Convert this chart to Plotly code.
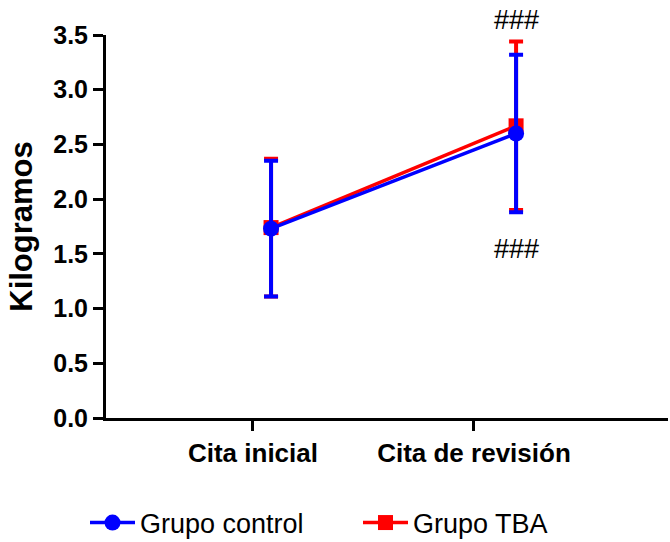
import plotly.graph_objects as go

categories = ["Cita inicial", "Cita de revisión"]
control_mean = [1.73, 2.60]
control_err = [0.62, 0.72]
tba_mean = [1.74, 2.67]
tba_err = [0.63, 0.77]
yticks = [0.0, 0.5, 1.0, 1.5, 2.0, 2.5, 3.0, 3.5]
signif = ["###", "###"]

FONT = "Liberation Sans, Arial, sans-serif"

fig = go.Figure()
# category holder for the labelled x axis (draws nothing)
fig.add_trace(go.Scatter(x=categories, y=[0, 0], mode="none", showlegend=False,
                         hoverinfo="skip", xaxis="x"))
fig.add_trace(go.Scatter(
    x=categories, y=tba_mean, name="Grupo TBA", xaxis="x2",
    mode="lines+markers",
    line=dict(color="#ff0000", width=3.5),
    marker=dict(symbol="square", size=15, color="#ff0000"),
    error_y=dict(type="data", array=tba_err, color="#ff0000", thickness=4, width=7),
    legendrank=2, cliponaxis=False,
))
fig.add_trace(go.Scatter(
    x=categories, y=control_mean, name="Grupo control", xaxis="x2",
    mode="lines+markers",
    line=dict(color="#0000ff", width=3.5),
    marker=dict(symbol="circle", size=16, color="#0000ff"),
    error_y=dict(type="data", array=control_err, color="#0000ff", thickness=4, width=7),
    legendrank=1, cliponaxis=False,
))

# significance marks
fig.add_annotation(x=categories[1], y=tba_mean[1] + tba_err[1], xref="x2", yref="y",
                   text=signif[0], showarrow=False, yshift=22,
                   font=dict(family=FONT, size=27, color="black"))
fig.add_annotation(x=categories[1], y=control_mean[1] - control_err[1], xref="x2", yref="y",
                   text=signif[1], showarrow=False, yshift=-37,
                   font=dict(family=FONT, size=27, color="black"))

fig.update_layout(
    width=670, height=542,
    margin=dict(l=106, r=2, t=35, b=124, autoexpand=False),
    paper_bgcolor="white", plot_bgcolor="white",
    font=dict(family=FONT, color="black"),
    showlegend=True,
    legend=dict(orientation="h", xref="container", yref="container",
                x=85 / 670, xanchor="left", y=1 - 523 / 542, yanchor="middle",
                font=dict(family=FONT, size=27, color="black"),
                entrywidth=213, itemwidth=45, traceorder="normal"),
    xaxis=dict(type="category", categoryarray=categories,
               range=[-0.665, 1.878], showline=True, linecolor="black", linewidth=3,
               ticks="outside", ticklen=10, tickwidth=3, tickcolor="black",
               showgrid=False, zeroline=False,
               tickfont=dict(family=FONT, size=26, color="black", weight="bold")),
    xaxis2=dict(type="category", categoryarray=categories, overlaying="x",
                range=[-0.6736, 1.620], visible=False, showgrid=False),
    yaxis=dict(range=[0, 3.5], tickvals=yticks, tickformat=".1f",
               showline=True, linecolor="black", linewidth=3,
               ticks="outside", ticklen=10, tickwidth=3, tickcolor="black",
               showgrid=False, zeroline=False,
               tickfont=dict(family=FONT, size=25, color="black", weight="bold"),
               title=dict(text="Kilogramos", standoff=12,
                          font=dict(family=FONT, size=31, color="black", weight="bold"))),
)

fig.write_html("out.html")
